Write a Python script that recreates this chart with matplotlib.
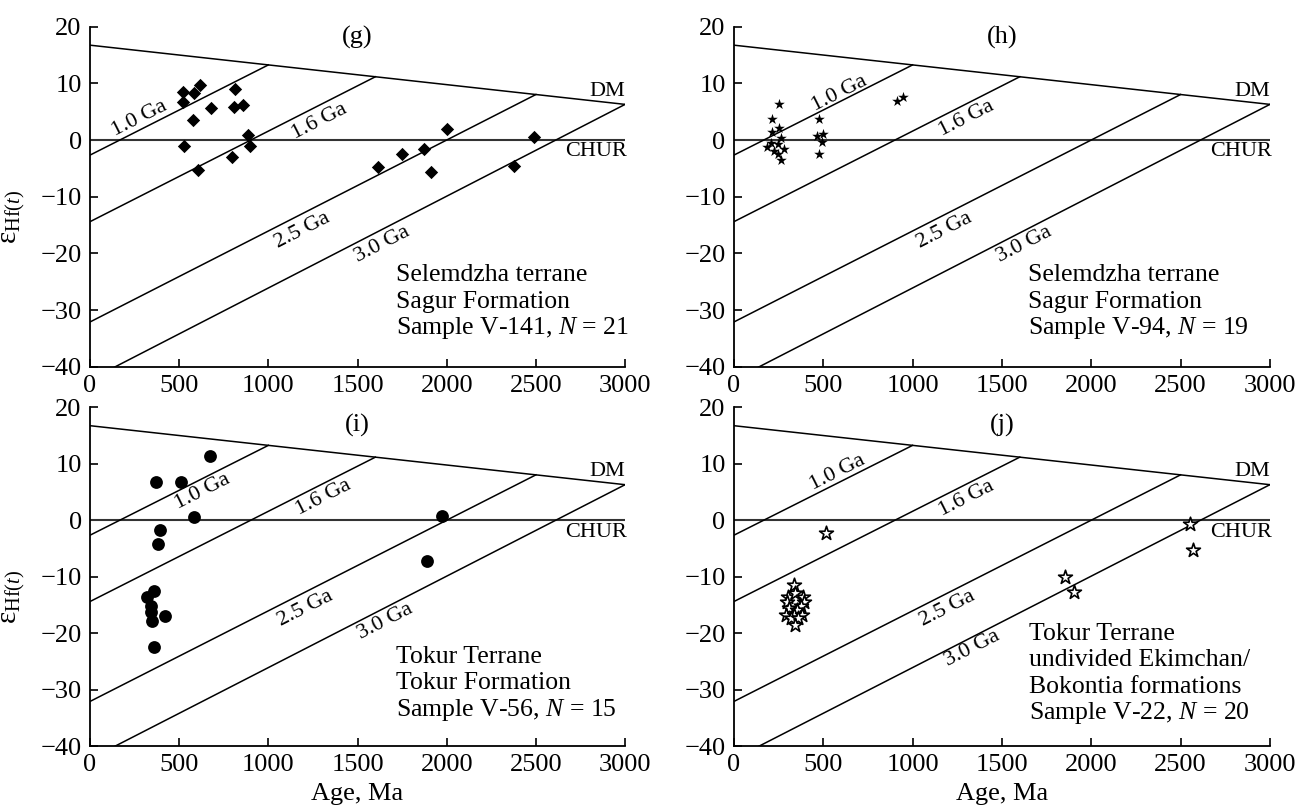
import numpy as np
import matplotlib.pyplot as plt

plt.rcParams['font.family'] = ['Liberation Serif', 'DejaVu Serif']
plt.rcParams['mathtext.fontset'] = 'custom'
plt.rcParams['mathtext.rm'] = 'Liberation Serif'
plt.rcParams['mathtext.it'] = 'Liberation Serif:italic'

# reference curves
dm_age = [0, 3000]
dm_eps = [16.75, 6.3]
model_ages = [1000, 1600, 2500, 3000]
model_eps0 = [-2.65, -14.4, -32.1, -42.3]   # eHf at t = 0
model_labels = ['1.0 Ga', '1.6 Ga', '2.5 Ga', '3.0 Ga']

# (g) Sample V-141
g_age = [519, 585, 615, 519, 813, 679, 805, 859, 575, 885, 525, 895, 795, 605,
         1614, 1748, 1873, 1913, 2003, 2377, 2491]
g_eps = [8.5, 8.35, 9.65, 6.65, 9.1, 5.6, 5.9, 6.2, 3.5, 0.9, -1.06, -1.0, -3.06, -5.3,
         -4.8, -2.5, -1.6, -5.6, 1.94, -4.5, 0.6]

# (h) Sample V-94
h_age = [252, 214, 252, 214, 261, 184, 205, 246, 278, 225, 246, 263,
         475, 464, 496, 492, 477, 913, 947]
h_eps = [6.35, 3.7, 2.06, 1.47, 0.3, -1.2, -0.5, -0.7, -1.5, -1.9, -2.5, -3.5,
         3.7, 0.76, 1.06, -0.4, -2.5, 6.9, 7.6]

# (i) Sample V-56
i_age = [673, 370, 509, 585, 393, 380, 1971, 1891, 360, 322, 340, 342, 346, 423, 360]
i_eps = [11.3, 6.86, 6.86, 0.55, -1.7, -4.2, 0.73, -7.3, -12.5, -13.6, -15.2, -16.2,
         -17.9, -16.9, -22.4]

# (j) Sample V-22
j_age = [513, 2555, 2572, 1854, 1903,
         338, 304, 341, 384, 295, 392, 373, 310, 354, 291, 336, 379, 317, 360, 341]
j_eps = [-2.2, -0.74, -5.3, -10.05, -12.7,
         -11.5, -13.55, -12.95, -13.55, -14.4, -14.4, -15.2, -15.6, -15.9, -16.8,
         -16.8, -16.8, -17.4, -17.4, -18.6]

fig = plt.figure(figsize=(12.99, 8.06), dpi=100)


def draw_panel(rect, letter, letter_y, ages, eps, marker_kw, label_pos, caption,
               cap_x, cap_y, xlabel, ylabel):
    ax = fig.add_axes(rect)
    ax.set_xlim(0, 3000)
    ax.set_ylim(-40, 20)
    ax.spines['top'].set_visible(False)
    ax.spines['right'].set_visible(False)
    for s in ['left', 'bottom']:
        ax.spines[s].set_linewidth(1.3)
    ax.set_xticks([0, 500, 1000, 1500, 2000, 2500, 3000])
    ax.set_yticks([-40, -30, -20, -10, 0, 10, 20])
    ax.tick_params(direction='in', length=6, width=1.2, labelsize=19, pad=6)

    # DM, CHUR and crustal evolution lines
    ax.plot(dm_age, dm_eps, color='black', lw=1.1)
    ax.axhline(0, color='#333333', lw=1.5)
    for T, e0, lab, (tx, ty) in zip(model_ages, model_eps0, model_labels, label_pos):
        eT = np.interp(T, dm_age, dm_eps)
        ax.plot([0, T], [e0, eT], color='black', lw=1.1)
        slope = (eT - e0) / T
        ax.text(tx, ty, lab, fontsize=16, ha='center', va='center',
                rotation=np.degrees(np.arctan(slope)), rotation_mode='anchor',
                transform_rotates_text=True)
    ax.text(3000, 8.6, 'DM', fontsize=16, ha='right', va='center')
    ax.text(3010, -2.1, 'CHUR', fontsize=16, ha='right', va='center')
    ax.text(1500, letter_y, letter, fontsize=19, ha='center', va='center')

    ax.scatter(ages, eps, zorder=5, clip_on=False, **marker_kw)

    for k, line in enumerate(caption):
        ax.text(cap_x, cap_y - 4.7 * k, line, fontsize=18.5, ha='left', va='center')

    if xlabel:
        ax.set_xlabel('Age, Ma', fontsize=19, labelpad=5)
    if ylabel:
        ax.set_ylabel(r'$\mathrm{ε}_{\mathrm{Hf}(t)}$', fontsize=21)
        ax.yaxis.set_label_coords(-0.118, 0.44)
    return ax


draw_panel([0.0693, 0.5450, 0.4119, 0.4218], '(g)', 18.2, g_age, g_eps,
           dict(marker='D', s=46, color='black', linewidths=0),
           [(280, 3.8), (1288, 3.2), (1188, -15.9), (1638, -18.5)],
           ['Selemdzha terrane', 'Sagur Formation', r'Sample V-141, $N$ = 21'],
           1718, -23.8, False, True)

draw_panel([0.5650, 0.5450, 0.4126, 0.4218], '(h)', 18.2, h_age, h_eps,
           dict(marker='*', s=65, color='black', linewidths=0),
           [(588, 8.2), (1304, 3.8), (1176, -15.9), (1625, -18.5)],
           ['Selemdzha terrane', 'Sagur Formation', r'Sample V-94, $N$ = 19'],
           1646, -23.8, False, False)

draw_panel([0.0693, 0.0744, 0.4119, 0.4202], '(i)', 16.8, i_age, i_eps,
           dict(marker='o', s=85, color='black', linewidths=0),
           [(629, 5.0), (1308, 4.1), (1208, -15.65), (1658, -18.0)],
           ['Tokur Terrane', 'Tokur Formation', r'Sample V-56, $N$ = 15'],
           1718, -24.2, True, True)

draw_panel([0.5650, 0.0744, 0.4126, 0.4202], '(j)', 16.8, j_age, j_eps,
           dict(marker='*', s=110, facecolor='white', edgecolor='black', linewidths=1.2),
           [(577, 8.5), (1304, 3.8), (1197, -15.65), (1336, -22.7)],
           ['Tokur Terrane', 'undivided Ekimchan/', 'Bokontia formations',
            r'Sample V-22, $N$ = 20'],
           1651, -20.1, True, False)

fig.savefig('out.png', dpi=100)
